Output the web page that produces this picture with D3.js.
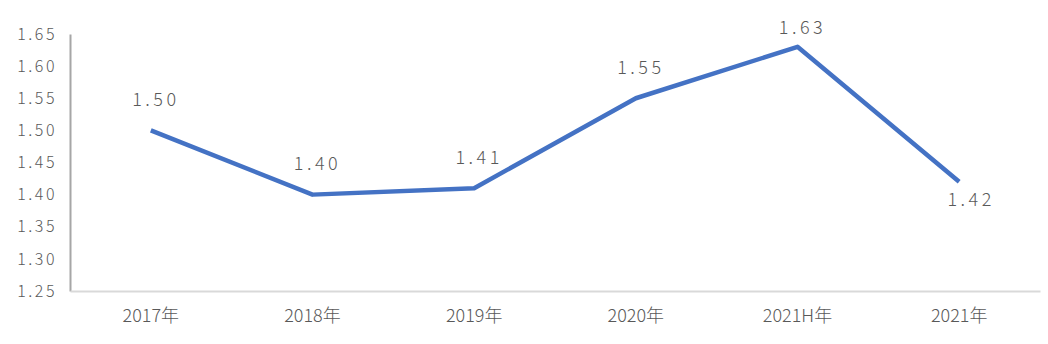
<!DOCTYPE html>
<html>
<head>
<meta charset="utf-8">
<script src="https://cdn.jsdelivr.net/npm/d3@7"></script>
<style>
  body { margin: 0; background: #fff; }
  text { font-family: "Noto Sans CJK SC", "DejaVu Sans", sans-serif; font-weight: 300; fill: #595959; }
</style>
</head>
<body>
<svg id="chart" width="1048" height="344"></svg>
<script>
// chart data
var categories = ["2017年", "2018年", "2019年", "2020年", "2021H年", "2021年"];
var values = [1.50, 1.40, 1.41, 1.55, 1.63, 1.42];
var labels = ["1.50", "1.40", "1.41", "1.55", "1.63", "1.42"];
var yTicks = [1.25, 1.30, 1.35, 1.40, 1.45, 1.50, 1.55, 1.60, 1.65];

// drawable area
var margin = {top: 34, right: 8, bottom: 53, left: 70},
  width = 1048 - margin.left - margin.right,
  height = 344 - margin.top - margin.bottom;

var svg = d3.select("#chart");
var g = svg.append("g")
  .attr("transform", "translate(" + margin.left + "," + margin.top + ")");

var x = d3.scaleBand()
  .domain(categories)
  .range([0, width]);

var y = d3.scaleLinear()
  .domain([1.25, 1.65])
  .range([height, 0]);

// y axis
var yAxis = g.append("g")
  .call(d3.axisLeft(y).tickValues(yTicks).tickSize(0).tickPadding(13).tickFormat(d3.format(".2f")));
yAxis.select(".domain").attr("stroke", "#a6a6a6").attr("stroke-width", 2);
yAxis.selectAll("text")
  .attr("font-size", 16)
  .attr("letter-spacing", 2.5)
  .attr("fill", "#595959");

// x axis
var xAxis = g.append("g")
  .attr("transform", "translate(0," + height + ")")
  .call(d3.axisBottom(x).tickSize(0).tickPadding(18));
xAxis.select(".domain").attr("stroke", "#d9d9d9").attr("stroke-width", 2);
xAxis.selectAll("text")
  .attr("font-size", 18)
  .attr("fill", "#595959");

// the line
var line = d3.line()
  .x(function(d, i) { return x(categories[i]) + x.bandwidth() / 2; })
  .y(function(d) { return y(d); });

g.append("path")
  .datum(values)
  .attr("fill", "none")
  .attr("stroke", "#4472c4")
  .attr("stroke-width", 4.5)
  .attr("stroke-linejoin", "round")
  .attr("d", line);

// data labels, last one sits below the point
g.selectAll(".lbl")
  .data(values)
  .enter()
  .append("text")
  .attr("class", "lbl")
  .attr("x", function(d, i) { return x(categories[i]) + x.bandwidth() / 2 + (i == values.length - 1 ? 12 : 5); })
  .attr("y", function(d, i) {
    if (i == values.length - 1) return y(d) + 18;
    return Math.max(y(d) - 31, -6);
  })
  .attr("dy", "0.35em")
  .attr("text-anchor", "middle")
  .attr("font-size", 18)
  .attr("letter-spacing", 3.5)
  .text(function(d, i) { return labels[i]; });
</script>
</body>
</html>
